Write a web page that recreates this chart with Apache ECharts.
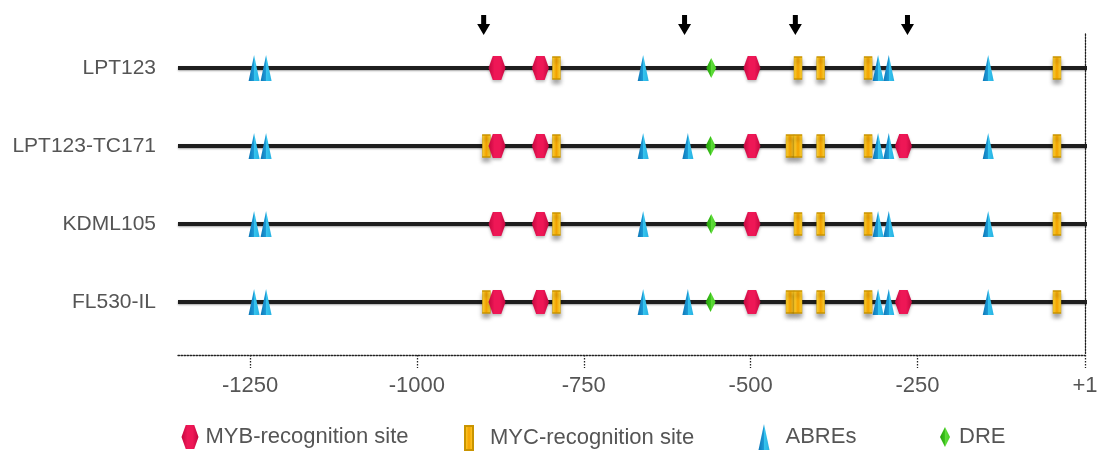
<!DOCTYPE html>
<html>
<head>
<meta charset="utf-8">
<script src="https://cdn.jsdelivr.net/npm/echarts@6/dist/echarts.min.js"></script>
<style>
  html, body { margin: 0; padding: 0; background: #ffffff; }
  #chart { width: 1107px; height: 453px; }
</style>
</head>
<body>
<div id="chart"></div>
<script>
// Promoter lines, top to bottom
const ROWS = ['LPT123', 'LPT123-TC171', 'KDML105', 'FL530-IL'];

// Extent of each promoter line (bp relative to the transcription start)
const LINE_START = -1358;
const LINE_END = 24;

// Axis ticks
const TICKS = [-1250, -1000, -750, -500, -250, 1];

// Positions of the cis-elements on each line (bp)
const MYB_SITES = [
  [-880, -815, -498],
  [-880, -815, -498, -271],
  [-880, -815, -498],
  [-880, -815, -498, -271]
];
const MYC_SITES = [
  [-791, -429, -395, -324, -41],
  [-896, -791, -441, -429, -395, -324, -41],
  [-791, -429, -395, -324, -41],
  [-896, -791, -441, -429, -395, -324, -41]
];
const ABRE_SITES = [
  [-1244, -1226, -661, -309, -293, -144],
  [-1244, -1226, -661, -594, -309, -293, -144],
  [-1244, -1226, -661, -309, -293, -144],
  [-1244, -1226, -661, -594, -309, -293, -144]
];
const DRE_SITES = [
  [-559],
  [-560],
  [-559],
  [-560]
];

// Polymorphic positions marked with arrows above the lines
const ARROW_SITES = [-900, -599, -433, -265];

const FONT = '"Liberation Sans", Arial, sans-serif';
const TEXT_COLOR = '#555555';
const DOTTED = { color: '#222222', width: 1.3, type: [1.5, 1.5] };

function points(sites) {
  const out = [];
  sites.forEach((row, r) => row.forEach(x => out.push([x, r])));
  return out;
}

function hGrad(stops) {
  return {
    type: 'linear', x: 0, y: 0, x2: 1, y2: 0,
    colorStops: stops.map(([offset, color]) => ({ offset, color }))
  };
}

const HEXAGON = 'path://M4.25,0 L12.75,0 L17,12 L12.75,24 L4.25,24 L0,12 Z';
const ARROW = 'path://M4,0 L9,0 L9,9 L13,9 L6.5,20 L0,9 L4,9 Z';

const lineSeries = ROWS.map((name, r) => ({
  type: 'line',
  name: 'line-' + name,
  data: [[LINE_START, r], [LINE_END, r]],
  clip: false,
  symbol: 'none',
  silent: true,
  z: 1,
  lineStyle: {
    color: '#1e1e1e', width: 4,
    shadowColor: 'rgba(0,0,0,0.35)', shadowBlur: 2, shadowOffsetY: 1
  }
}));

const markerSeries = [
  {
    type: 'scatter',
    name: 'MYC-recognition site',
    data: points(MYC_SITES),
    symbol: 'rect',
    symbolSize: [8, 22],
    z: 3,
    itemStyle: {
      opacity: 1,
      color: hGrad([[0, '#ffd93a'], [0.5, '#f5a300'], [1, '#ffd93a']]),
      borderColor: '#c99400', borderWidth: 0.8,
      shadowColor: 'rgba(0,0,0,0.35)', shadowBlur: 4, shadowOffsetY: 4
    }
  },
  {
    type: 'scatter',
    name: 'ABREs',
    data: points(ABRE_SITES),
    symbol: 'triangle',
    symbolSize: [11, 26],
    z: 4,
    itemStyle: {
      opacity: 1,
      color: hGrad([[0, '#0f78b8'], [0.5, '#1d9ad6'], [0.52, '#36c4ee'], [1, '#27b1e2']])
    }
  },
  {
    type: 'scatter',
    name: 'MYB-recognition site',
    data: points(MYB_SITES),
    symbol: HEXAGON,
    symbolSize: [17, 24],
    z: 5,
    itemStyle: {
      opacity: 1,
      color: hGrad([[0, '#c3073f'], [0.35, '#ee1756'], [0.65, '#ee1756'], [1, '#c3073f']]),
      shadowColor: 'rgba(0,0,0,0.25)', shadowBlur: 3, shadowOffsetY: 2
    }
  },
  {
    type: 'scatter',
    name: 'DRE',
    data: points(DRE_SITES),
    symbol: 'diamond',
    symbolSize: [10, 20],
    z: 6,
    itemStyle: {
      opacity: 1,
      color: hGrad([[0, '#279e0c'], [0.5, '#3cc41c'], [0.52, '#5fdc3a'], [1, '#49cf26']])
    }
  },
  {
    type: 'scatter',
    name: 'arrows',
    data: ARROW_SITES.map(x => [x, 0]),
    symbol: ARROW,
    symbolSize: [13, 20],
    symbolOffset: [0, -43],
    clip: false,
    silent: true,
    z: 6,
    itemStyle: { opacity: 1, color: '#000000' }
  }
];

function legendItem(name, left, top, itemWidth, itemHeight, pad) {
  return {
    data: [name],
    left: left,
    top: top,
    padding: 0,
    itemWidth: itemWidth,
    itemHeight: itemHeight,
    selectedMode: false,
    textStyle: {
      fontFamily: FONT, fontSize: 22, color: TEXT_COLOR,
      padding: [0, 0, 0, pad]
    }
  };
}

const option = {
  backgroundColor: '#ffffff',
  animation: false,
  grid: { left: 178, right: 22, top: 34, bottom: 98 },
  legend: [
    legendItem('MYB-recognition site', 181.5, 425, 17, 24, 2),
    legendItem('MYC-recognition site', 464, 425, 8, 24, 12),
    legendItem('ABREs', 758.5, 424, 11, 26, 11),
    legendItem('DRE', 940, 426, 10, 20, 4)
  ],
  xAxis: {
    type: 'value',
    min: LINE_START,
    max: 1,
    axisLine: { show: true, onZero: false, lineStyle: DOTTED },
    axisTick: {
      show: true, length: 13, customValues: TICKS,
      lineStyle: DOTTED
    },
    axisLabel: {
      customValues: TICKS,
      margin: 20,
      fontFamily: FONT, fontSize: 22, color: TEXT_COLOR,
      formatter: v => (v > 0 ? '+' + v : String(v))
    },
    splitLine: { show: false }
  },
  yAxis: [
    {
      type: 'value',
      inverse: true,
      min: -0.436,
      max: 3.679,
      axisLine: { show: false, onZero: false },
      axisTick: { show: false },
      splitLine: { show: false },
      axisLabel: {
        customValues: ROWS.map((_, i) => i),
        margin: 22,
        fontFamily: FONT, fontSize: 21, color: TEXT_COLOR,
        formatter: v => ROWS[Math.round(v)] || ''
      }
    },
    {
      type: 'value',
      position: 'right',
      inverse: true,
      min: -0.436,
      max: 3.679,
      axisLine: { show: true, onZero: false, lineStyle: DOTTED },
      axisTick: { show: false },
      axisLabel: { show: false },
      splitLine: { show: false }
    }
  ],
  series: lineSeries.concat(markerSeries)
};

const chart = echarts.init(document.getElementById('chart'), null, { renderer: 'canvas' });
chart.setOption(option);
</script>
</body>
</html>
